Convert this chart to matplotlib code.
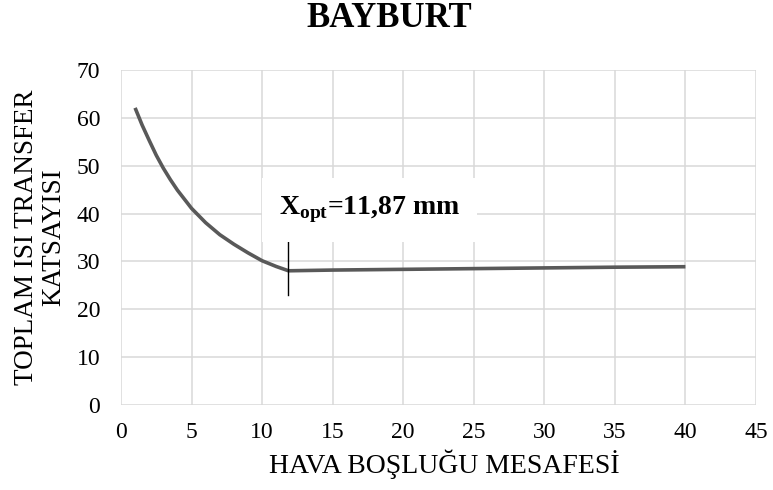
import matplotlib
matplotlib.use("Agg")
import matplotlib.pyplot as plt

x_vals = [1, 1.5, 2, 2.5, 3, 3.5, 4, 5, 6, 7, 8, 9, 10, 11, 11.87, 15, 20, 25, 30, 35, 40]
y_vals = [62.1, 58.5, 55.3, 52.2, 49.5, 47.1, 44.9, 41.1, 38.1, 35.6, 33.6, 31.8, 30.15,
          28.95, 28.05, 28.2, 28.35, 28.5, 28.65, 28.8, 28.9]
x_opt = 11.87
opt_label = "X$_{\\mathbf{opt}}$=11,87 mm"
title = "BAYBURT"
xlabel = "HAVA BOŞLUĞU MESAFESİ"
ylabel = "TOPLAM ISI TRANSFER\nKATSAYISI"
xticks = list(range(0, 50, 5))
yticks = list(range(0, 80, 10))

plt.rcParams['font.family'] = ['Liberation Serif', 'DejaVu Serif']
plt.rcParams['mathtext.fontset'] = 'custom'
plt.rcParams['mathtext.rm'] = 'Liberation Serif'
plt.rcParams['mathtext.bf'] = 'Liberation Serif:bold'

fig = plt.figure(figsize=(7.73, 4.9), dpi=100)
ax = fig.add_axes([0.1565, 0.1735, 0.8215, 0.6835])

ax.plot(x_vals, y_vals, color='#595959', lw=2.6, solid_capstyle='butt',
        solid_joinstyle='round', zorder=3)
ax.plot([x_opt, x_opt], [23, 34], color='black', lw=1, zorder=4)

ax.set_xlim(0, 45)
ax.set_ylim(0, 70)
ax.set_xticks(xticks)
ax.set_yticks(yticks)
ax.grid(True, color='#d9d9d9', lw=1.1)
ax.set_axisbelow(True)
for s in ax.spines.values():
    s.set_visible(False)
ax.tick_params(axis='both', length=0, labelsize=17)
ax.tick_params(axis='y', pad=15)
ax.tick_params(axis='x', pad=12)

ax.text(17.6, 40.8, opt_label, fontsize=20, fontweight='bold', ha='center', va='center',
        bbox=dict(boxstyle='square,pad=0.6', facecolor='white', edgecolor='none'), zorder=5)

fig.text(389 / 773, 1 - 27 / 490, title, fontsize=25, fontweight='bold', ha='center', va='baseline')
fig.text(444 / 773, 1 - 464 / 490, xlabel, fontsize=20, ha='center', va='center')
fig.text(40 / 773, 1 - 237 / 490, ylabel, fontsize=19.5, ha='center', va='center',
         rotation=90, linespacing=1.1, multialignment='center')

fig.savefig("out.png", dpi=100)
